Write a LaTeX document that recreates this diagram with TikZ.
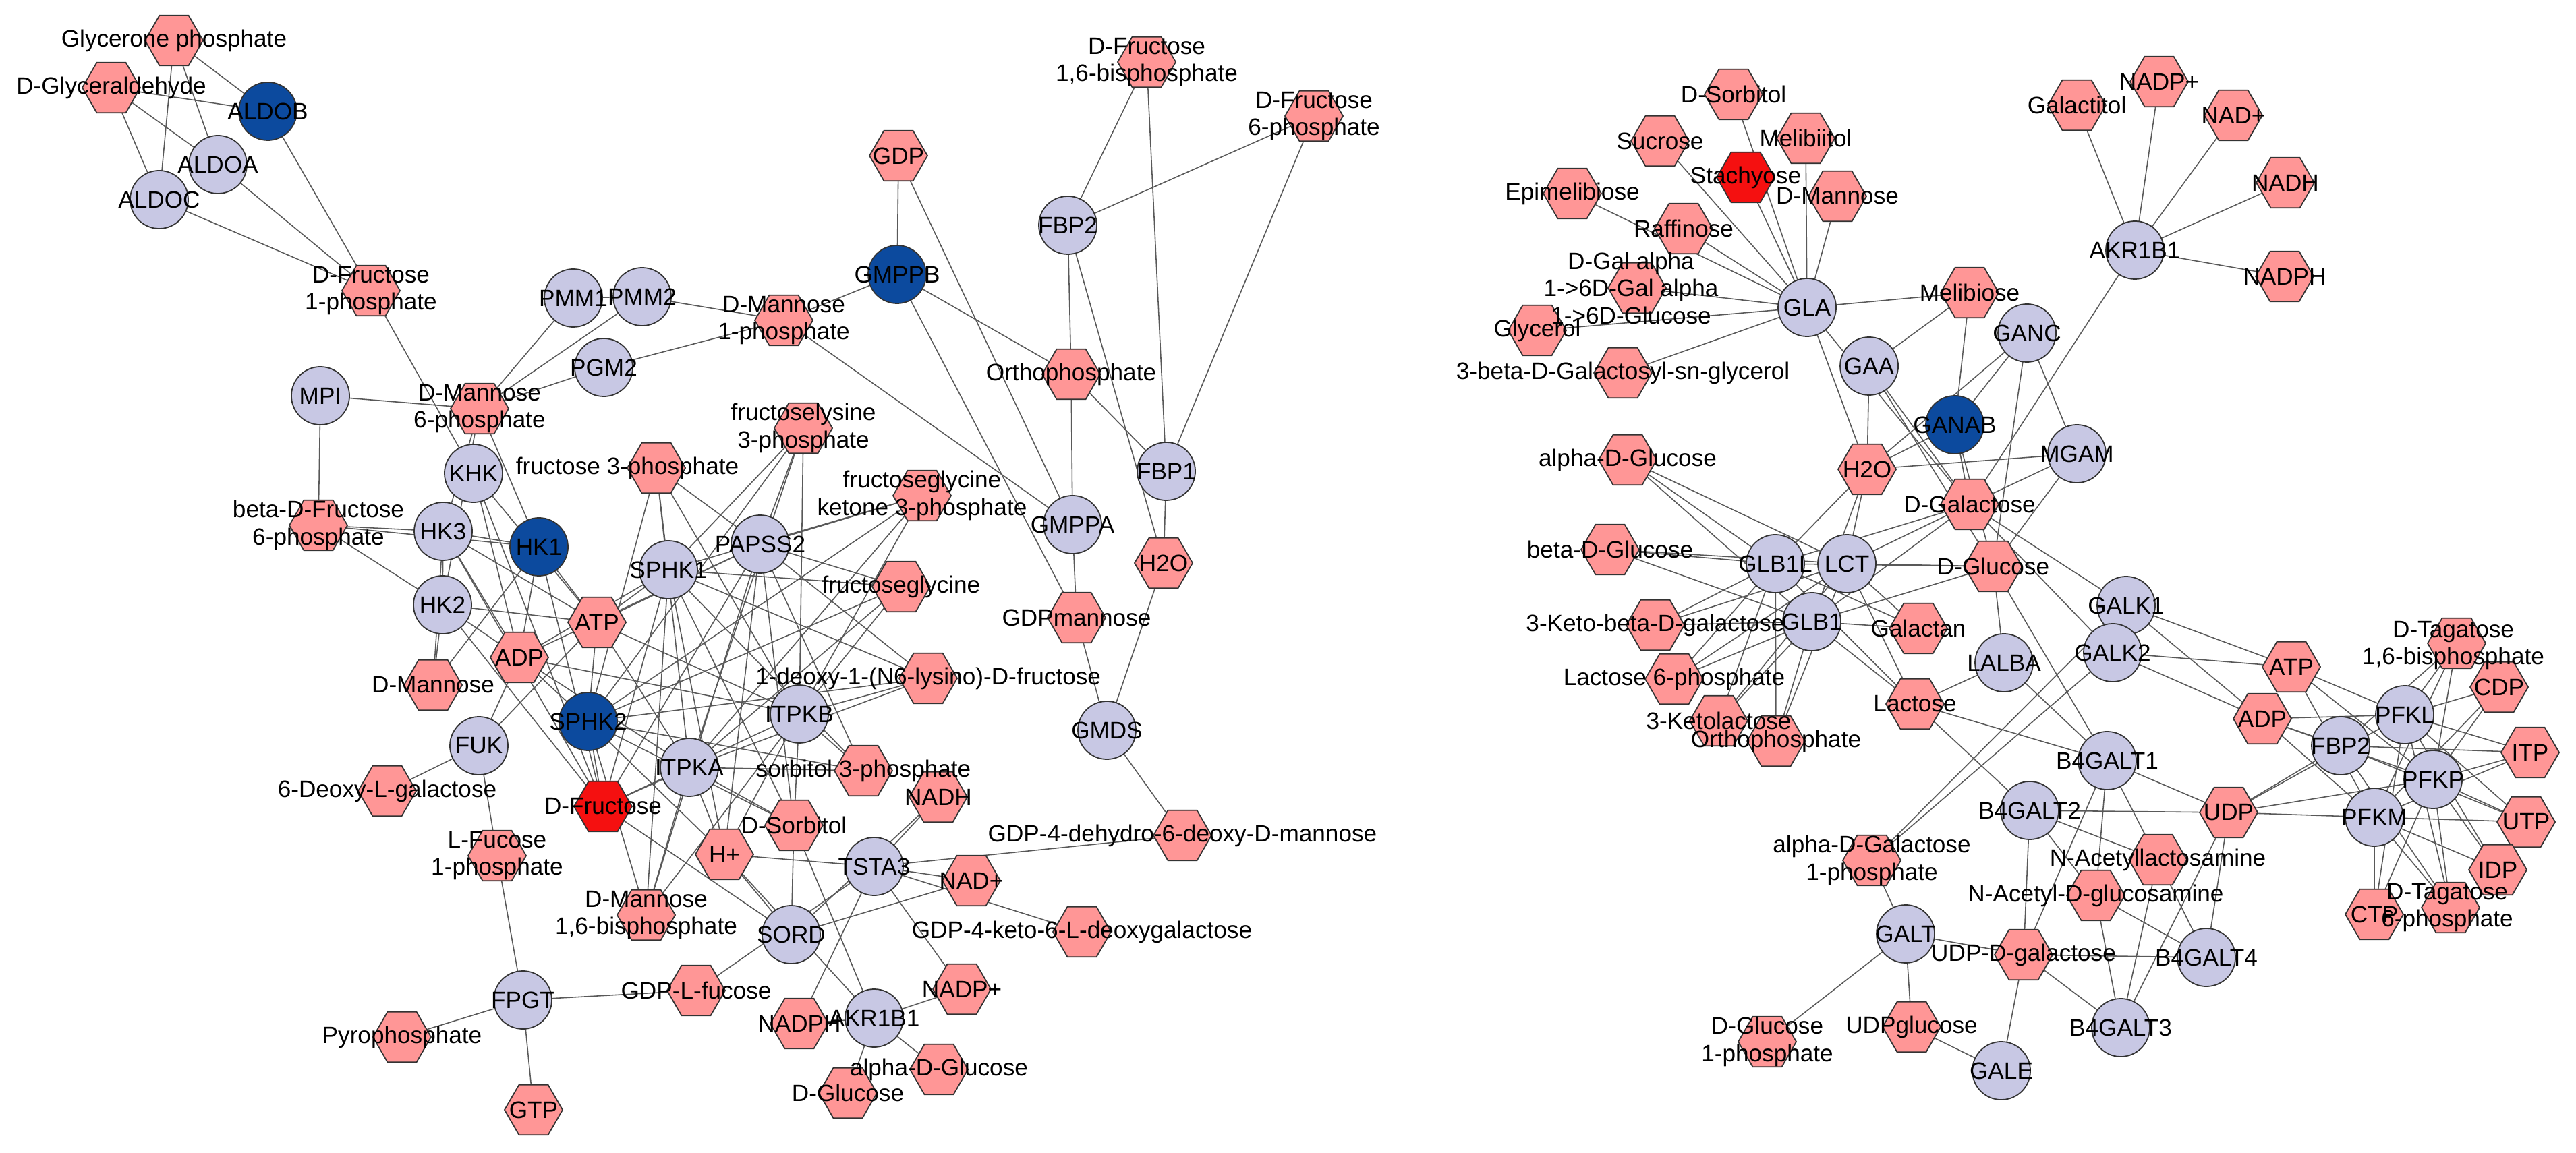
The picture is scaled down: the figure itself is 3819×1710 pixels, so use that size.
\documentclass[tikz,border=0pt]{standalone}
\usepackage{fontspec}
\setmainfont{Liberation Sans}
\usetikzlibrary{shapes.geometric}
\pgfdeclarelayer{edges}\pgfdeclarelayer{labels}
\pgfsetlayers{edges,main,labels}
\tikzset{
 enz/.style={circle,draw=black!80,line width=0.5pt,minimum size=0.86cm,inner sep=0pt,fill=enzc},
 dk/.style={enz,fill=dkc},
 met/.style={regular polygon,regular polygon sides=6,draw=black!80,line width=0.5pt,minimum size=0.86cm,inner sep=0pt,fill=metc},
 red/.style={met,fill=redc},
 lbl/.style={font=\fontsize{10}{11.5}\selectfont,align=center,inner sep=0pt},
 ed/.style={draw=black!65,line width=0.45pt}
}
\definecolor{enzc}{HTML}{C8C8E4}
\definecolor{dkc}{HTML}{0C4A9E}
\definecolor{metc}{HTML}{FF9696}
\definecolor{redc}{HTML}{F51010}
\newcommand\NN[5]{\node[#1] (#2) at (#3,#4) {};\begin{pgfonlayer}{labels}\node[lbl] at (#3,#4) {#5};\end{pgfonlayer}}
\newcommand\NL[7]{\node[#1] (#2) at (#3,#4) {};\begin{pgfonlayer}{labels}\node[lbl] at (#5,#6) {#7};\end{pgfonlayer}}
\newcommand\ES[2]{\begin{pgfonlayer}{edges}\foreach \b in {#2}{\draw[ed] (#1.center) -- (\b.center);}\end{pgfonlayer}}
\begin{document}
\begin{tikzpicture}[x=0.01cm,y=-0.01cm]
\useasboundingbox (0,0) rectangle (3819,1710);
% ---------- left network ----------
\NN{met}{GlyP}{258}{60}{Glycerone phosphate}
\NN{met}{DGlyc}{165}{130}{D-Glyceraldehyde}
\NN{dk}{ALDOB}{397}{165}{ALDOB}
\NN{enz}{ALDOA}{323}{244}{ALDOA}
\NN{enz}{ALDOC}{236}{296}{ALDOC}
\NN{met}{DF1P}{550}{431}{D-Fructose\\1-phosphate}
\NN{enz}{PMM1}{850}{442}{PMM1}
\NN{enz}{PMM2}{952}{440}{PMM2}
\NN{enz}{PGM2}{895}{545}{PGM2}
\NN{enz}{MPI}{475}{587}{MPI}
\NN{met}{DM6P}{711}{606}{D-Mannose\\6-phosphate}
\NN{enz}{KHK}{702}{702}{KHK}
\NN{met}{bDF6P}{472}{779}{beta-D-Fructose\\6-phosphate}
\NN{enz}{HK3}{657}{788}{HK3}
\NN{dk}{HK1}{799}{811}{HK1}
\NL{met}{F3P}{973}{694}{930}{694}{fructose 3-phosphate}
\NN{enz}{HK2}{656}{897}{HK2}
\NN{enz}{SPHK1}{991}{845}{SPHK1}
\NN{met}{ATP}{885}{923}{ATP}
\NN{met}{ADP}{770}{975}{ADP}
\NN{met}{DMan}{642}{1016}{D-Mannose}
\NN{dk}{SPHK2}{872}{1070}{SPHK2}
\NN{enz}{FUK}{710}{1106}{FUK}
\NN{enz}{ITPKA}{1022}{1138}{ITPKA}
\NN{red}{DFru}{894}{1196}{D-Fructose}
\NN{met}{DLG}{574}{1173}{6-Deoxy-L-galactose}
\NN{met}{LF1P}{737}{1269}{L-Fucose\\1-phosphate}
\NN{met}{Hp}{1074}{1267}{H+}
\NN{met}{DM16}{958}{1357}{D-Mannose\\1,6-bisphosphate}
\NN{enz}{FPGT}{775}{1483}{FPGT}
\NN{met}{GDPLF}{1032}{1469}{GDP-L-fucose}
\NN{met}{PPi}{596}{1538}{Pyrophosphate}
\NN{met}{GTP}{791}{1646}{GTP}
\NN{met}{FL3P}{1191}{635}{fructoselysine\\3-phosphate}
\NN{met}{FGK}{1367}{735}{fructoseglycine\\ketone 3-phosphate}
\NN{enz}{PAPSS2}{1127}{807}{PAPSS2}
\NN{met}{FG}{1336}{870}{fructoseglycine}
\NN{enz}{GMPPA}{1590}{778}{GMPPA}
\NN{enz}{FBP1}{1729}{699}{FBP1}
\NN{met}{H2Ol}{1725}{835}{H2O}
\NN{met}{GDPM}{1596}{916}{GDPmannose}
\NN{met}{DLF}{1376}{1006}{1-deoxy-1-(N6-lysino)-D-fructose}
\NN{enz}{ITPKB}{1185}{1059}{ITPKB}
\NN{enz}{GMDS}{1641}{1083}{GMDS}
\NN{met}{S3P}{1280}{1143}{sorbitol 3-phosphate}
\NN{met}{NADHl}{1391}{1182}{NADH}
\NN{met}{DSorb}{1177}{1224}{D-Sorbitol}
\NN{enz}{TSTA3}{1296}{1285}{TSTA3}
\NN{met}{GDP4D}{1753}{1239}{GDP-4-dehydro-6-deoxy-D-mannose}
\NN{met}{NADpl}{1440}{1306}{NAD+}
\NN{enz}{SORD}{1173}{1386}{SORD}
\NN{met}{GDP4K}{1604}{1382}{GDP-4-keto-6-L-deoxygalactose}
\NN{met}{NADPpl}{1426}{1467}{NADP+}
\NN{met}{NADPHl}{1185}{1518}{NADPH}
\NN{enz}{AKRl}{1296}{1510}{AKR1B1}
\NN{met}{aDGl}{1392}{1586}{alpha-D-Glucose}
\NN{met}{DGl}{1257}{1621}{D-Glucose}
\NN{met}{GDP}{1332}{231}{GDP}
\NN{dk}{GMPPB}{1330}{407}{GMPPB}
\NN{enz}{FBP2l}{1583}{334}{FBP2}
\NN{met}{DF16}{1700}{92}{D-Fructose\\1,6-bisphosphate}
\NN{met}{DF6P}{1948}{172}{D-Fructose\\6-phosphate}
\NN{met}{Orth}{1588}{555}{Orthophosphate}
\NN{met}{DM1P}{1162}{475}{D-Mannose\\1-phosphate}
% left edges
\ES{GlyP}{ALDOB,ALDOA,ALDOC}
\ES{DGlyc}{ALDOB,ALDOA,ALDOC}
\ES{DF1P}{ALDOB,ALDOA,ALDOC,KHK}
\ES{DM6P}{PMM1,PMM2,PGM2,MPI,HK1,HK2,HK3}
\ES{PMM1}{PMM2}
\ES{DM1P}{PMM2,PGM2,GMPPB,GMPPA}
\ES{MPI}{bDF6P}
\ES{bDF6P}{HK1,HK2,HK3}
\ES{HK1}{ATP,ADP,DFru,DMan,HK3}
\ES{HK2}{ATP,ADP,DFru,DMan,HK3}
\ES{HK3}{ATP,ADP,DFru,DMan}
\ES{KHK}{ATP,ADP,DFru}
\foreach \k in {SPHK1,SPHK2,PAPSS2,ITPKA,ITPKB}{\ES{\k}{ATP,ADP,DFru,F3P,FL3P,FGK,FG,DLF,S3P,DSorb,Hp,DM16}}
\ES{FUK}{ATP,ADP,DLG,LF1P}
\ES{FPGT}{LF1P,GDPLF,PPi,GTP}
\ES{SORD}{DSorb,DFru,NADpl,NADHl,Hp}
\ES{AKRl}{DGl,aDGl,NADPHl,NADPpl,DSorb,Hp}
\ES{TSTA3}{NADHl,NADpl,NADPpl,NADPHl,GDP4K,GDP4D,GDPLF,Hp}
\ES{GMPPA}{GDP,Orth,GDPM}
\ES{GMPPB}{GDP,Orth,GDPM}
\ES{FBP1}{DF16,DF6P,Orth,H2Ol}
\ES{FBP2l}{DF16,DF6P,Orth,H2Ol}
\ES{GMDS}{GDPM,H2Ol,GDP4D}
% ---------- right network ----------
\NN{met}{rDSorb}{2570}{140}{D-Sorbitol}
\NN{met}{Suc}{2461}{209}{Sucrose}
\NN{met}{Melt}{2677}{205}{Melibiitol}
\NN{red}{Stach}{2588}{263}{Stachyose}
\NN{met}{rDMan}{2724}{291}{D-Mannose}
\NN{met}{Epim}{2331}{287}{Epimelibiose}
\NN{met}{Raff}{2496}{339}{Raffinose}
\NL{met}{DGal3}{2427}{427}{2418}{427}{D-Gal alpha\\1->6D-Gal alpha\\1->6D-Glucose}
\NN{met}{Glyc}{2279}{490}{Glycerol}
\NN{met}{BGSG}{2406}{553}{3-beta-D-Galactosyl-sn-glycerol}
\NN{enz}{GLA}{2679}{456}{GLA}
\NN{met}{Melb}{2920}{434}{Melibiose}
\NN{enz}{GANC}{3005}{494}{GANC}
\NN{enz}{GAA}{2771}{543}{GAA}
\NN{dk}{GANAB}{2898}{630}{GANAB}
\NN{enz}{MGAM}{3079}{673}{MGAM}
\NN{met}{rH2O}{2768}{696}{H2O}
\NN{met}{DGal}{2920}{748}{D-Galactose}
\NN{met}{raDG}{2413}{682}{alpha-D-Glucose}
\NN{met}{rbDG}{2387}{815}{beta-D-Glucose}
\NN{enz}{GLB1L}{2632}{836}{GLB1L}
\NN{enz}{LCT}{2738}{836}{LCT}
\NN{met}{rDG}{2955}{840}{D-Glucose}
\NN{enz}{GLB1}{2686}{922}{GLB1}
\NN{met}{KbDG}{2454}{927}{3-Keto-beta-D-galactose}
\NN{met}{Galn}{2844}{932}{Galactan}
\NN{enz}{GALK1}{3152}{898}{GALK1}
\NN{enz}{GALK2}{3132}{968}{GALK2}
\NN{enz}{rAKR}{3165}{371}{AKR1B1}
\NN{met}{Galt}{3079}{156}{Galactitol}
\NN{met}{rNADPp}{3201}{121}{NADP+}
\NN{met}{rNADp}{3311}{171}{NAD+}
\NN{met}{rNADH}{3388}{271}{NADH}
\NN{met}{rNADPH}{3387}{410}{NADPH}
\NN{met}{L6P}{2482}{1007}{Lactose 6-phosphate}
\NN{met}{KL}{2548}{1069}{3-Ketolactose}
\NN{met}{rOrth}{2633}{1099}{Orthophosphate}
\NN{met}{Lac}{2839}{1044}{Lactose}
\NN{enz}{LALBA}{2971}{983}{LALBA}
\NN{met}{rATP}{3397}{989}{ATP}
\NN{met}{rADP}{3354}{1066}{ADP}
\NN{enz}{rFBP2}{3470}{1106}{FBP2}
\NN{enz}{PFKL}{3565}{1060}{PFKL}
\NL{met}{DT16}{3642}{954}{3637}{957}{D-Tagatose\\1,6-bisphosphate}
\NN{met}{CDP}{3705}{1019}{CDP}
\NN{met}{ITP}{3751}{1116}{ITP}
\NN{enz}{PFKP}{3607}{1156}{PFKP}
\NN{enz}{PFKM}{3520}{1212}{PFKM}
\NN{met}{UTP}{3745}{1219}{UTP}
\NN{met}{IDP}{3703}{1290}{IDP}
\NL{met}{DT6P}{3633}{1346}{3628}{1346}{D-Tagatose\\6-phosphate}
\NN{met}{CTP}{3520}{1356}{CTP}
\NN{enz}{B4G1}{3124}{1128}{B4GALT1}
\NN{met}{UDP}{3304}{1205}{UDP}
\NN{enz}{B4G2}{3009}{1202}{B4GALT2}
\NN{met}{aDG1P}{2775}{1276}{alpha-D-Galactose\\1-phosphate}
\NN{met}{NAL}{3199}{1275}{N-Acetyllactosamine}
\NN{met}{NAG}{3107}{1328}{N-Acetyl-D-glucosamine}
\NN{enz}{GALT}{2825}{1385}{GALT}
\NN{met}{UDPG}{3000}{1416}{UDP-D-galactose}
\NN{enz}{B4G4}{3271}{1420}{B4GALT4}
\NN{enz}{B4G3}{3144}{1524}{B4GALT3}
\NN{met}{DG1P}{2620}{1545}{D-Glucose\\1-phosphate}
\NN{met}{UDPgl}{2834}{1523}{UDPglucose}
\NN{enz}{GALE}{2967}{1588}{GALE}
% right edges
\ES{GLA}{rDSorb,Suc,Melt,Stach,rDMan,Epim,Raff,DGal3,Glyc,BGSG,Melb,rH2O,DGal}
\ES{GAA}{Melb,rH2O,DGal,rDG}
\ES{GANC}{rH2O,rDG,MGAM}
\ES{GANAB}{Melb,rH2O,DGal,rDG,GANC}
\ES{MGAM}{rH2O,DGal,rDG}
\ES{rAKR}{Galt,rNADPp,rNADp,rNADH,rNADPH,DGal}
\foreach \k in {GLB1L,LCT,GLB1}{\ES{\k}{raDG,rbDG,KbDG,L6P,KL,rOrth,Galn,Lac,DGal,rDG,rH2O}}
\ES{LALBA}{Lac,rDG,B4G1}
\ES{GALK1}{DGal,rATP,rADP,aDG1P}
\ES{GALK2}{DGal,rATP,rADP,aDG1P}
\foreach \k in {PFKL,PFKP,PFKM}{\ES{\k}{rATP,rADP,CDP,ITP,UTP,IDP,CTP,UDP,DT16,DT6P}}
\ES{rFBP2}{DT16,DT6P,rADP,UDP,ITP,UTP}
\foreach \k in {B4G1,B4G2,B4G3,B4G4}{\ES{\k}{UDP,UDPG,NAL,NAG}}
\ES{B4G1}{Lac,rDG}
\ES{B4G2}{Lac}
\ES{GALT}{aDG1P,UDPG,UDPgl,DG1P}
\ES{GALE}{UDPG,UDPgl}
\end{tikzpicture}
\end{document}
